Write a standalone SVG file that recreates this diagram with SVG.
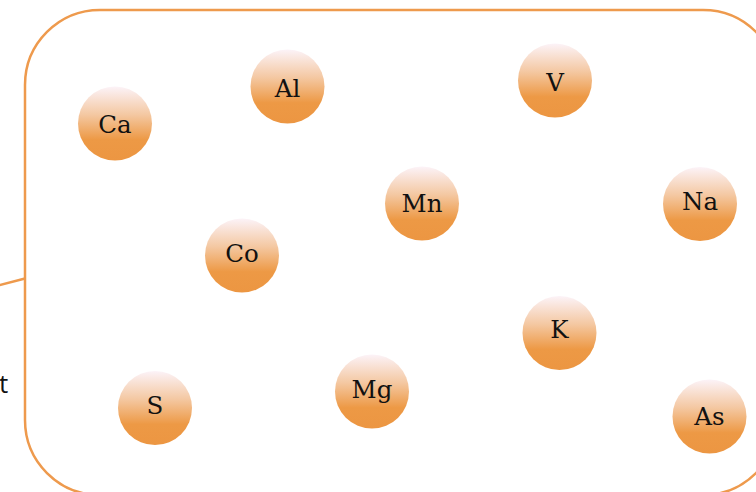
<svg xmlns="http://www.w3.org/2000/svg" width="756" height="492" viewBox="0 0 756 492">
<defs>
<linearGradient id="ball" x1="0" y1="0" x2="0" y2="1">
<stop offset="0" stop-color="#FCF3F8"/>
<stop offset="0.38" stop-color="#F4C8A2"/>
<stop offset="0.72" stop-color="#ED9945"/>
<stop offset="1" stop-color="#EC9642"/>
</linearGradient>
<style>
.frame{fill:none;stroke:#EE9A4D;stroke-width:2.5}
.ball{fill:url(#ball)}
.lbl{font-family:"DejaVu Serif","Liberation Serif",serif;font-size:24.5px;fill:#111;text-anchor:middle}
.side{font-family:"Open Sans","Liberation Sans",sans-serif;font-size:26px;fill:#111}
</style>
</defs>
<rect class="frame" x="25" y="10" width="753" height="485" rx="75" ry="75"/>
<g id="connectors">
<line class="frame" x1="-2" y1="285.5" x2="25" y2="278.5"/>
</g>
<text class="side" x="-1" y="393">t</text>
<g id="Ca"><circle class="ball" cx="115" cy="123.5" r="37"/><text class="lbl" x="115" y="133">Ca</text></g>
<g id="Al"><circle class="ball" cx="287.5" cy="86.5" r="37"/><text class="lbl" x="287.5" y="97">Al</text></g>
<g id="V"><circle class="ball" cx="555" cy="80.5" r="37"/><text class="lbl" x="555" y="91">V</text></g>
<g id="Mn"><circle class="ball" cx="422" cy="203.5" r="37"/><text class="lbl" x="422" y="212">Mn</text></g>
<g id="Na"><circle class="ball" cx="700" cy="204" r="37"/><text class="lbl" x="700" y="210">Na</text></g>
<g id="Co"><circle class="ball" cx="242" cy="255.5" r="37"/><text class="lbl" x="242" y="262">Co</text></g>
<g id="K"><circle class="ball" cx="559.5" cy="333" r="37"/><text class="lbl" x="559.5" y="338">K</text></g>
<g id="S"><circle class="ball" cx="155" cy="408" r="37"/><text class="lbl" x="155" y="414">S</text></g>
<g id="Mg"><circle class="ball" cx="372" cy="391.5" r="37"/><text class="lbl" x="372" y="398">Mg</text></g>
<g id="As"><circle class="ball" cx="709.5" cy="416.5" r="37"/><text class="lbl" x="709.5" y="425">As</text></g>
</svg>
